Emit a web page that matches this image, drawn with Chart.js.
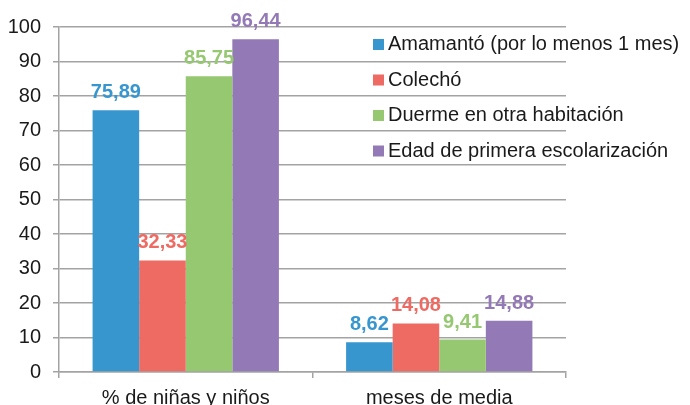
<!DOCTYPE html>
<html>
<head>
<meta charset="utf-8">
<script src="https://cdn.jsdelivr.net/npm/chart.js@4/dist/chart.umd.min.js"></script>
<style>
  html, body { margin: 0; padding: 0; background: #fff; }
  #wrap { width: 690px; height: 405px; }
</style>
</head>
<body>
<div id="wrap"><canvas id="chart" width="690" height="405"></canvas></div>
<script>
const categories = ["% de niñas y niños", "meses de media"];
const seriesNames = [
    "Amamantó (por lo menos 1 mes)",
    "Colechó",
    "Duerme en otra habitación",
    "Edad de primera escolarización",
];
const amamanto = [75.89, 8.62];
const colecho = [32.33, 14.08];
const duerme = [85.75, 9.41];
const edad = [96.44, 14.88];
const seriesColors = ["#3896cf", "#ed6b63", "#96c872", "#9379b5"];
const yTicks = [0, 10, 20, 30, 40, 50, 60, 70, 80, 90, 100];

const FONT = "'Liberation Sans', Arial, sans-serif";
const gridColor = "#a3a3a3";

// value labels above each bar, Spanish decimal comma
const valueLabels = {
    id: "valueLabels",
    afterDatasetsDraw(chart) {
        const ctx = chart.ctx;
        ctx.save();
        ctx.font = "bold 20px " + FONT;
        ctx.textAlign = "center";
        ctx.textBaseline = "alphabetic";
        chart.data.datasets.forEach((ds, i) => {
            chart.getDatasetMeta(i).data.forEach((bar, j) => {
                ctx.fillStyle = ds.backgroundColor;
                ctx.fillText(ds.data[j].toFixed(2).replace(".", ","), bar.x, bar.y - 12);
            });
        });
        ctx.restore();
    },
};

// legend drawn on top of the grid, to the right
const sideLegend = {
    id: "sideLegend",
    afterDraw(chart) {
        const ctx = chart.ctx;
        ctx.save();
        ctx.font = "20px " + FONT;
        ctx.textAlign = "left";
        ctx.textBaseline = "alphabetic";
        chart.data.datasets.forEach((ds, i) => {
            const base = 50 + i * 35.5;
            ctx.fillStyle = ds.backgroundColor;
            ctx.fillRect(373, base - 11, 11, 11);
            ctx.fillStyle = "#1a1a1a";
            ctx.fillText(ds.label, 388, base);
        });
        ctx.restore();
    },
};

const makeDataset = (label, data, color) => ({
    label: label,
    data: data,
    backgroundColor: color,
    borderWidth: 0,
    barPercentage: 1,
    categoryPercentage: 0.735,
});

new Chart(document.getElementById("chart"), {
    type: "bar",
    data: {
        labels: categories,
        datasets: [
            makeDataset(seriesNames[0], amamanto, seriesColors[0]),
            makeDataset(seriesNames[1], colecho, seriesColors[1]),
            makeDataset(seriesNames[2], duerme, seriesColors[2]),
            makeDataset(seriesNames[3], edad, seriesColors[3]),
        ],
    },
    options: {
        responsive: false,
        animation: false,
        layout: {
            padding: { top: 27, right: 124, left: 0, bottom: 0 },
        },
        plugins: {
            legend: { display: false },
            tooltip: { enabled: false },
        },
        scales: {
            x: {
                grid: {
                    offset: true,
                    drawOnChartArea: false,
                    color: gridColor,
                    lineWidth: 1.5,
                    tickLength: 6,
                },
                border: { color: gridColor, width: 1.5 },
                ticks: {
                    color: "#1a1a1a",
                    font: { family: FONT, size: 20 },
                    padding: 8,
                    maxRotation: 0,
                },
                afterFit: (scale) => { scale.height = 33; },
            },
            y: {
                min: 0,
                max: 100,
                afterBuildTicks: (scale) => {
                    scale.ticks = yTicks.map((v) => ({ value: v }));
                },
                grid: {
                    color: gridColor,
                    lineWidth: 1.5,
                    tickLength: 6,
                },
                border: { color: gridColor, width: 1.5 },
                ticks: {
                    color: "#1a1a1a",
                    font: { family: FONT, size: 20 },
                    padding: 12,
                },
                afterFit: (scale) => { scale.width = 59; },
            },
        },
    },
    plugins: [valueLabels, sideLegend],
});
</script>
</body>
</html>
